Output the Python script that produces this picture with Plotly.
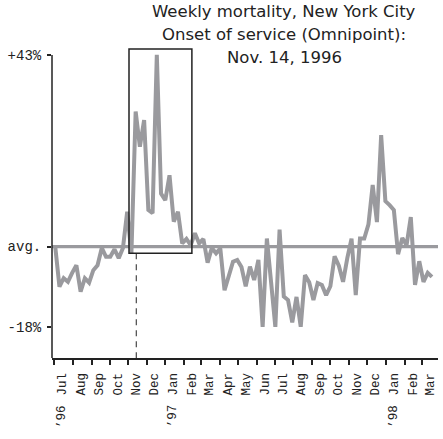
import plotly.graph_objects as go
import pandas as pd

# ---- data (weekly mortality, % deviation from average) ----
start_date = "1996-07-03"
weekly_excess_pct = [
    0.0, -9.0, -7.1, -7.9, -5.9, -4.2, -10.1, -7.1, -8.1, -5.3,
    -4.2, -0.3, -2.3, -2.3, -0.6, -2.6, -0.3, 7.8, -1.5, 30.3,
    22.4, 28.4, 8.2, 7.5, 43.0, 11.9, 10.4, 16.0, 5.6, 7.8,
    0.7, 1.7, 0.3, 3.0, 0.7, 1.7, -3.6, -0.3, -1.5, -0.4,
    -9.8, -6.6, -3.4, -3.0, -4.6, -8.9, -4.5, -7.5, -3.0, -18.0,
    1.8, -8.0, -18.0, 3.8, -11.2, -12.0, -17.0, -11.3, -18.0, -6.4,
    -8.0, -12.0, -8.2, -8.6, -10.9, -8.9, -2.2, -4.3, -7.9, -2.6,
    1.8, -10.9, 1.8, 1.8, 5.0, 13.8, 5.5, 25.0, 10.2, 9.3,
    8.2, -1.7, 1.9, 0.3, 6.6, -8.6, -3.3, -7.9, -5.9, -6.8,
]
weeks = pd.date_range(start_date, periods=len(weekly_excess_pct), freq="7D")

month_labels = ["Jul", "Aug", "Sep", "Oct", "Nov", "Dec", "Jan", "Feb", "Mar", "Apr",
                "May", "Jun", "Jul", "Aug", "Sep", "Oct", "Nov", "Dec", "Jan", "Feb", "Mar"]
month_starts = pd.date_range("1996-07-01", periods=len(month_labels), freq="MS")
month_mids = month_starts + pd.Timedelta(days=13)

year_labels = ["\u201996", "\u201997", "\u201998"]
year_dates = ["1996-07-14", "1997-01-14", "1998-01-14"]

y_tick_vals = [43, 0, -18]
y_tick_text = ["+43%", "avg.", "-18%"]

onset_date = "1996-11-14"
box_x = ["1996-11-02", "1997-02-14"]
box_y = [-1.5, 44.3]

title_lines = ["Weekly mortality, New York City",
               "Onset of service (Omnipoint):",
               "Nov. 14, 1996"]

# ---- figure ----
GRAY = "#9a9a9e"
INK = "#222222"
W, H = 443, 439
L, R, T, B = 52, 5, 46, 81
pw, ph = W - L - R, H - T - B

def px_to_paper_x(px):
    return (px - L) / pw

def px_to_paper_y(py):
    return (H - B - py) / ph

fig = go.Figure()

# average line
fig.add_shape(type="line", xref="paper", yref="y", x0=0, x1=1, y0=0, y1=0,
              line=dict(color=GRAY, width=3.2), layer="below")

fig.add_trace(go.Scatter(x=weeks, y=weekly_excess_pct, mode="lines",
                         line=dict(color=GRAY, width=4), hoverinfo="skip",
                         showlegend=False))

# y axis line
fig.add_shape(type="line", xref="paper", yref="y", x0=0, x1=0, y0=-25, y1=43,
              line=dict(color=INK, width=1.5))
# highlight box
fig.add_shape(type="rect", xref="x", yref="y", x0=box_x[0], x1=box_x[1],
              y0=box_y[0], y1=box_y[1], line=dict(color=INK, width=1.5))
# onset dashed line
fig.add_shape(type="line", xref="x", yref="y", x0=onset_date, x1=onset_date,
              y0=box_y[0], y1=-25, line=dict(color=INK, width=1, dash="6px,5px"))

title_px_y = [12, 35, 57]
for txt, py in zip(title_lines, title_px_y):
    fig.add_annotation(text=txt, xref="paper", yref="paper",
                       x=px_to_paper_x(284), y=px_to_paper_y(py),
                       xanchor="center", yanchor="middle", showarrow=False,
                       font=dict(family="DejaVu Sans", size=16.5, color=INK))

for txt, d in zip(year_labels, year_dates):
    fig.add_annotation(text=txt, xref="x", yref="paper", x=d, y=px_to_paper_y(416),
                       xanchor="center", yanchor="middle", textangle=-90,
                       showarrow=False,
                       font=dict(family="Liberation Mono", size=12.5, color=INK))

fig.update_layout(
    width=W, height=H,
    margin=dict(l=L, r=R, t=T, b=B, autoexpand=False),
    paper_bgcolor="white", plot_bgcolor="white",
    showlegend=False,
    xaxis=dict(
        type="date",
        range=["1996-06-27 16:00", "1998-03-28"],
        tickvals=list(month_mids), ticktext=month_labels,
        tickangle=-90, ticks="outside", ticklen=6, tickcolor="rgba(0,0,0,0)",
        ticklabelstandoff=2,
        tickfont=dict(family="Liberation Mono", size=12.5, color=INK),
        showline=True, linecolor=INK, linewidth=2,
        showgrid=False, zeroline=False, automargin=False,
        minor=dict(tickvals=list(month_starts), ticks="outside", ticklen=5,
                   tickwidth=1.5, tickcolor=INK, showgrid=False),
    ),
    yaxis=dict(
        range=[-25, 45],
        tickvals=y_tick_vals, ticktext=y_tick_text,
        ticks="outside", ticklen=4, tickwidth=1.5, tickcolor=INK,
        ticklabelstandoff=3,
        tickfont=dict(family="Liberation Mono", size=14, color=INK),
        showline=False, showgrid=False, zeroline=False, automargin=False,
    ),
)

fig.write_html("out.html", config={"displayModeBar": False},
               post_script="document.body.style.margin='0';document.body.style.padding='0';")
